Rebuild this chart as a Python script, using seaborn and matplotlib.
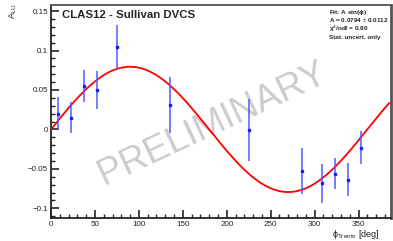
import numpy as np
import pandas as pd
import matplotlib
matplotlib.use("Agg")
import matplotlib.pyplot as plt
import seaborn as sns
from matplotlib.ticker import MultipleLocator

# data
phi = [7.5, 22.3, 37.1, 52.3, 74.6, 135.2, 225.4, 285.6, 308.0, 322.7, 338.3, 353.0]
alu = [0.020, 0.015, 0.055, 0.0495, 0.1045, 0.031, -0.001, -0.053, -0.0685, -0.056, -0.064, -0.023]
err = [0.021, 0.020, 0.020, 0.024, 0.028, 0.036, 0.039, 0.029, 0.025, 0.020, 0.021, 0.021]

fit_A = 0.0794
fit_A_err = 0.0112
chi2_ndf = 0.80

sns.set_style("ticks")
plt.rcParams["font.family"] = ["Liberation Sans", "DejaVu Sans"]
plt.rcParams["mathtext.fontset"] = "custom"
plt.rcParams["mathtext.rm"] = "Liberation Sans"
plt.rcParams["mathtext.it"] = "Liberation Sans:italic"

fig = plt.figure(figsize=(3.93, 2.41), dpi=100)
ax = fig.add_axes([0.1298, 0.0954, 0.8652, 0.8836])

# fit curve A sin(phi)
grid = np.linspace(0, 385, 400)
curve = pd.DataFrame({"phi": grid, "A": fit_A * np.sin(np.radians(grid))})
sns.lineplot(data=curve, x="phi", y="A", color="red", linewidth=1.3, ax=ax, zorder=3)

ax.errorbar(phi, alu, yerr=err, fmt="s", color="#1a1aff", ecolor="#4d5cff",
            markersize=2, elinewidth=1.1, capsize=0, zorder=4)

ax.text(0.475, 0.44, "PRELIMINARY", transform=ax.transAxes, fontsize=26.5,
        color="#cccccc", rotation=25, ha="center", va="center", zorder=1)

ax.set_xlim(0, 387)
ax.set_ylim(-0.1123, 0.1576)
ax.xaxis.set_major_locator(MultipleLocator(50))
ax.xaxis.set_minor_locator(MultipleLocator(10))
ax.yaxis.set_major_locator(MultipleLocator(0.05))
ax.yaxis.set_minor_locator(MultipleLocator(0.01))
ax.set_yticks([-0.1, -0.05, 0, 0.05, 0.1, 0.15])
ax.set_yticklabels(["\u22120.1", "\u22120.05", "0", "0.05", "0.1", "0.15"])
ax.tick_params(which="major", direction="in", length=6, width=1.2, labelsize=5.8,
               top=False, right=False, pad=2, colors="#222222")
ax.tick_params(which="minor", direction="in", length=3, width=1.0,
               top=False, right=False, colors="#222222")
for s in ax.spines.values():
    s.set_linewidth(1.3)
    s.set_color("#222222")
ax.spines["top"].set_color("#555555")
ax.spines["right"].set_color("#555555")
ax.spines["right"].set_linewidth(2)

ax.set_xlabel("")
ax.set_ylabel("")
fig.text(0.965, 0.028, r"$\mathregular{\phi_{Trento}}$ [deg]", ha="right", va="center",
         fontsize=6.5, color="#222222")
fig.text(0.033, 0.955, r"$\mathregular{A_{LU}}$", rotation=90, ha="center", va="center",
         fontsize=6.5, color="#222222")

ax.text(0.032, 0.955, "CLAS12 - Sullivan DVCS", transform=ax.transAxes,
        fontsize=8.2, fontweight="bold", ha="left", va="center")

stats = [r"Fit: A sin($\mathregular{\phi}$)",
         "A = %.4f $\\pm$ %.4f" % (fit_A, fit_A_err),
         r"$\mathregular{\chi^2}$/ndf = %.2f" % chi2_ndf,
         "Stat. uncert. only"]
for i, line in enumerate(stats):
    ax.text(0.818, 0.967 - i * 0.039, line, transform=ax.transAxes,
            fontsize=4.6, fontweight="bold", ha="left", va="center")

fig.savefig("out.png", dpi=100)
